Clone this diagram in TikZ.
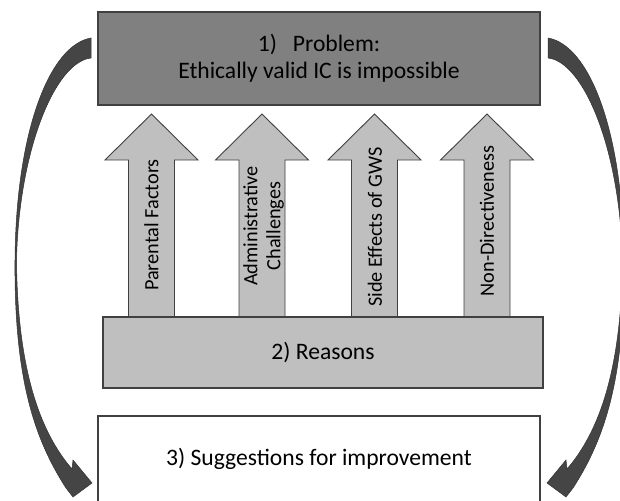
\documentclass[tikz,border=0pt]{standalone}
\usepackage{fontspec}
\setmainfont{Carlito}
\usetikzlibrary{positioning}

\definecolor{darkbox}{HTML}{808080}
\definecolor{lightbox}{HTML}{BFBFBF}
\definecolor{bendfill}{HTML}{454545}
\definecolor{edgegray}{HTML}{404040}

\begin{document}
\begin{tikzpicture}[
  x=1pt, y=-1pt,
  box/.style={draw=edgegray, line width=1.2pt, font=\fontsize{23.6}{27}\selectfont, align=center},
  uparrow/.style={draw=edgegray, line width=0.9pt, fill=lightbox},
  reason/.style={rotate=90, font=\fontsize{20.3}{23}\selectfont, align=center},
  bendarrow/.style={fill=bendfill, draw=black!80, line width=0.5pt}
]
\useasboundingbox (0,0) rectangle (620,500);

% Arrows from the reasons up to the problem
\draw[uparrow] (128.5,317) -- (128.5,160) -- (105,160) -- (151.5,114) -- (198,160) -- (174.5,160) -- (174.5,317);
\draw[uparrow] (239,317) -- (239,160) -- (215.5,160) -- (262,114) -- (308.5,160) -- (285,160) -- (285,317);
\draw[uparrow] (351.5,317) -- (351.5,160) -- (328,160) -- (374.5,114) -- (421,160) -- (397.5,160) -- (397.5,317);
\draw[uparrow] (464,317) -- (464,160) -- (440.5,160) -- (487,114) -- (533.5,160) -- (510,160) -- (510,317);

\node[reason] (parental) at (151.5,225) {Parental Factors};
\node[reason] (admin) at (263.5,226) {Administrative\\Challenges};
\node[reason] (sideeff) at (375,227) {Side Effects of GWS};
\node[reason] (nondir) at (487,221) {Non-Directiveness};

% Boxes
\node[box, fill=darkbox, minimum width=442pt, minimum height=93pt] (problem) at (319,58.5) {1)\hspace{16pt}Problem:\\Ethically valid IC is impossible};
\node[box, fill=lightbox, minimum width=440pt, minimum height=71pt] (reasons) at (323,352.5) {2) Reasons};
\node[box, fill=white, minimum width=442pt, minimum height=86pt] (improve) at (319,459) {3) Suggestions for improvement};

% Curved arrows from the problem down to the suggestions
\draw[bendarrow] (91,38) .. controls (50,45) and (16,130) .. (15,260)
  .. controls (14,380) and (35,440) .. (66,488) -- (73,497) -- (92,483) -- (73,460) -- (72,469)
  .. controls (40,432) and (17.5,370) .. (16.5,260)
  .. controls (19,150) and (55,62) .. (91,58) -- cycle;
\begin{scope}[shift={(639,0)}, xscale=-1]
\draw[bendarrow] (91,38) .. controls (50,45) and (16,130) .. (15,260)
  .. controls (14,380) and (35,440) .. (66,488) -- (73,497) -- (92,483) -- (73,460) -- (72,469)
  .. controls (40,432) and (17.5,370) .. (16.5,260)
  .. controls (19,150) and (55,62) .. (91,58) -- cycle;
\end{scope}

\end{tikzpicture}
\end{document}
